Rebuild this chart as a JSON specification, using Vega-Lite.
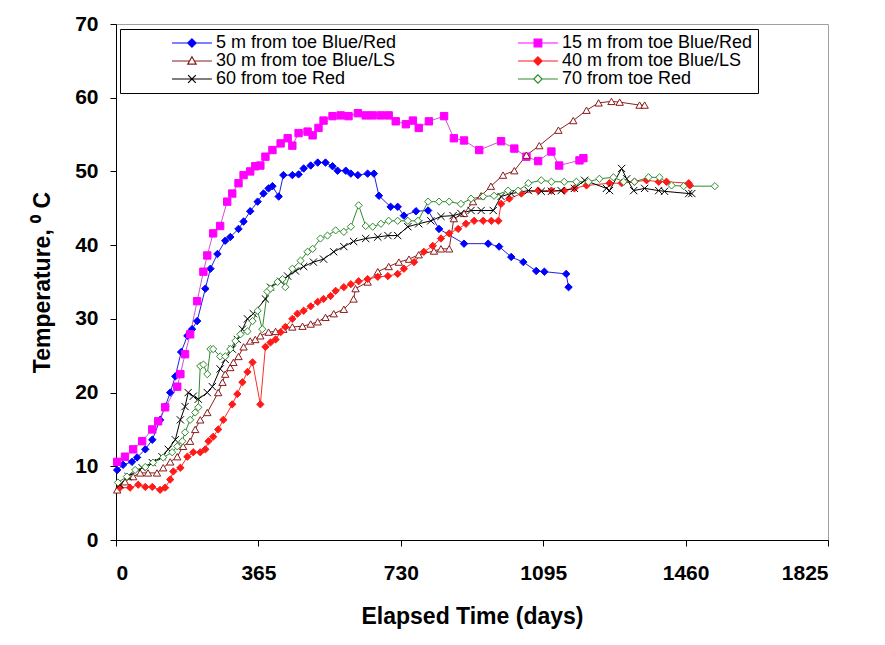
{
  "$schema": "https://vega.github.io/schema/vega-lite/v6.json",
  "width": 712,
  "height": 516,
  "autosize": {"type": "none"},
  "padding": {"left": 116, "top": 24, "right": 57, "bottom": 105},
  "background": "white",
  "config": {
    "view": {"stroke": "#a0a0a0", "strokeWidth": 1},
    "font": "Liberation Sans",
    "axis": {
      "grid": false,
      "domainColor": "#000000",
      "tickColor": "#000000",
      "tickSize": 6,
      "labelFont": "Liberation Sans",
      "labelFontWeight": "bold",
      "labelFontSize": 21,
      "labelColor": "#000000",
      "titleFont": "Liberation Sans",
      "titleFontWeight": "bold",
      "titleFontSize": 23,
      "titleColor": "#000000"
    }
  },
  "datasets": {
    "legendrows": [
      {"series": "5 m from toe Blue/Red"},
      {"series": "15 m from toe Blue/Red"},
      {"series": "30 m from toe Blue/LS"},
      {"series": "40 m from toe Blue/LS"},
      {"series": "60  from toe Red"},
      {"series": "70  from toe Red"}
    ],
    "temps": [
      {"series": "5 m from toe Blue/Red", "day": 3, "temp": 9.5},
      {"series": "5 m from toe Blue/Red", "day": 18, "temp": 10.2},
      {"series": "5 m from toe Blue/Red", "day": 41, "temp": 10.6},
      {"series": "5 m from toe Blue/Red", "day": 54, "temp": 11.2},
      {"series": "5 m from toe Blue/Red", "day": 75, "temp": 12.3},
      {"series": "5 m from toe Blue/Red", "day": 93, "temp": 13.6},
      {"series": "5 m from toe Blue/Red", "day": 113, "temp": 16.3},
      {"series": "5 m from toe Blue/Red", "day": 126, "temp": 18.1},
      {"series": "5 m from toe Blue/Red", "day": 139, "temp": 20.0},
      {"series": "5 m from toe Blue/Red", "day": 152, "temp": 22.2},
      {"series": "5 m from toe Blue/Red", "day": 167, "temp": 25.5},
      {"series": "5 m from toe Blue/Red", "day": 183, "temp": 27.7},
      {"series": "5 m from toe Blue/Red", "day": 195, "temp": 28.6},
      {"series": "5 m from toe Blue/Red", "day": 208, "temp": 29.7},
      {"series": "5 m from toe Blue/Red", "day": 229, "temp": 34.1},
      {"series": "5 m from toe Blue/Red", "day": 242, "temp": 36.8},
      {"series": "5 m from toe Blue/Red", "day": 260, "temp": 38.8},
      {"series": "5 m from toe Blue/Red", "day": 280, "temp": 40.6},
      {"series": "5 m from toe Blue/Red", "day": 293, "temp": 41.1},
      {"series": "5 m from toe Blue/Red", "day": 314, "temp": 42.2},
      {"series": "5 m from toe Blue/Red", "day": 327, "temp": 43.2},
      {"series": "5 m from toe Blue/Red", "day": 344, "temp": 44.6},
      {"series": "5 m from toe Blue/Red", "day": 363, "temp": 45.9},
      {"series": "5 m from toe Blue/Red", "day": 378, "temp": 47.0},
      {"series": "5 m from toe Blue/Red", "day": 391, "temp": 47.7},
      {"series": "5 m from toe Blue/Red", "day": 401, "temp": 48.0},
      {"series": "5 m from toe Blue/Red", "day": 417, "temp": 46.6},
      {"series": "5 m from toe Blue/Red", "day": 429, "temp": 49.5},
      {"series": "5 m from toe Blue/Red", "day": 452, "temp": 49.5},
      {"series": "5 m from toe Blue/Red", "day": 468, "temp": 49.6},
      {"series": "5 m from toe Blue/Red", "day": 481, "temp": 50.4},
      {"series": "5 m from toe Blue/Red", "day": 499, "temp": 50.8},
      {"series": "5 m from toe Blue/Red", "day": 517, "temp": 51.2},
      {"series": "5 m from toe Blue/Red", "day": 537, "temp": 51.2},
      {"series": "5 m from toe Blue/Red", "day": 555, "temp": 50.7},
      {"series": "5 m from toe Blue/Red", "day": 568, "temp": 50.1},
      {"series": "5 m from toe Blue/Red", "day": 589, "temp": 50.1},
      {"series": "5 m from toe Blue/Red", "day": 602, "temp": 49.7},
      {"series": "5 m from toe Blue/Red", "day": 620, "temp": 49.5},
      {"series": "5 m from toe Blue/Red", "day": 645, "temp": 49.7},
      {"series": "5 m from toe Blue/Red", "day": 661, "temp": 49.7},
      {"series": "5 m from toe Blue/Red", "day": 674, "temp": 46.7},
      {"series": "5 m from toe Blue/Red", "day": 704, "temp": 45.2},
      {"series": "5 m from toe Blue/Red", "day": 722, "temp": 45.2},
      {"series": "5 m from toe Blue/Red", "day": 738, "temp": 44.0},
      {"series": "5 m from toe Blue/Red", "day": 769, "temp": 44.6},
      {"series": "5 m from toe Blue/Red", "day": 800, "temp": 44.7},
      {"series": "5 m from toe Blue/Red", "day": 828, "temp": 42.2},
      {"series": "5 m from toe Blue/Red", "day": 892, "temp": 40.2},
      {"series": "5 m from toe Blue/Red", "day": 954, "temp": 40.2},
      {"series": "5 m from toe Blue/Red", "day": 982, "temp": 39.8},
      {"series": "5 m from toe Blue/Red", "day": 1013, "temp": 38.4},
      {"series": "5 m from toe Blue/Red", "day": 1044, "temp": 37.7},
      {"series": "5 m from toe Blue/Red", "day": 1077, "temp": 36.5},
      {"series": "5 m from toe Blue/Red", "day": 1098, "temp": 36.4},
      {"series": "5 m from toe Blue/Red", "day": 1154, "temp": 36.1},
      {"series": "5 m from toe Blue/Red", "day": 1160, "temp": 34.3},

      {"series": "15 m from toe Blue/Red", "day": 3, "temp": 10.6},
      {"series": "15 m from toe Blue/Red", "day": 23, "temp": 11.3},
      {"series": "15 m from toe Blue/Red", "day": 44, "temp": 12.3},
      {"series": "15 m from toe Blue/Red", "day": 67, "temp": 13.4},
      {"series": "15 m from toe Blue/Red", "day": 93, "temp": 15.0},
      {"series": "15 m from toe Blue/Red", "day": 108, "temp": 16.1},
      {"series": "15 m from toe Blue/Red", "day": 126, "temp": 18.0},
      {"series": "15 m from toe Blue/Red", "day": 157, "temp": 20.8},
      {"series": "15 m from toe Blue/Red", "day": 165, "temp": 22.5},
      {"series": "15 m from toe Blue/Red", "day": 177, "temp": 25.2},
      {"series": "15 m from toe Blue/Red", "day": 190, "temp": 27.9},
      {"series": "15 m from toe Blue/Red", "day": 208, "temp": 32.4},
      {"series": "15 m from toe Blue/Red", "day": 224, "temp": 36.4},
      {"series": "15 m from toe Blue/Red", "day": 234, "temp": 38.6},
      {"series": "15 m from toe Blue/Red", "day": 249, "temp": 41.6},
      {"series": "15 m from toe Blue/Red", "day": 267, "temp": 42.6},
      {"series": "15 m from toe Blue/Red", "day": 285, "temp": 45.9},
      {"series": "15 m from toe Blue/Red", "day": 298, "temp": 47.0},
      {"series": "15 m from toe Blue/Red", "day": 314, "temp": 48.4},
      {"series": "15 m from toe Blue/Red", "day": 327, "temp": 49.5},
      {"series": "15 m from toe Blue/Red", "day": 344, "temp": 50.0},
      {"series": "15 m from toe Blue/Red", "day": 357, "temp": 50.7},
      {"series": "15 m from toe Blue/Red", "day": 370, "temp": 50.8},
      {"series": "15 m from toe Blue/Red", "day": 383, "temp": 52.0},
      {"series": "15 m from toe Blue/Red", "day": 401, "temp": 52.9},
      {"series": "15 m from toe Blue/Red", "day": 422, "temp": 53.8},
      {"series": "15 m from toe Blue/Red", "day": 440, "temp": 54.5},
      {"series": "15 m from toe Blue/Red", "day": 452, "temp": 53.5},
      {"series": "15 m from toe Blue/Red", "day": 468, "temp": 55.2},
      {"series": "15 m from toe Blue/Red", "day": 491, "temp": 55.4},
      {"series": "15 m from toe Blue/Red", "day": 504, "temp": 54.9},
      {"series": "15 m from toe Blue/Red", "day": 519, "temp": 55.9},
      {"series": "15 m from toe Blue/Red", "day": 532, "temp": 56.9},
      {"series": "15 m from toe Blue/Red", "day": 555, "temp": 57.5},
      {"series": "15 m from toe Blue/Red", "day": 576, "temp": 57.6},
      {"series": "15 m from toe Blue/Red", "day": 596, "temp": 57.5},
      {"series": "15 m from toe Blue/Red", "day": 620, "temp": 57.9},
      {"series": "15 m from toe Blue/Red", "day": 640, "temp": 57.6},
      {"series": "15 m from toe Blue/Red", "day": 658, "temp": 57.6},
      {"series": "15 m from toe Blue/Red", "day": 679, "temp": 57.6},
      {"series": "15 m from toe Blue/Red", "day": 699, "temp": 57.6},
      {"series": "15 m from toe Blue/Red", "day": 717, "temp": 56.8},
      {"series": "15 m from toe Blue/Red", "day": 743, "temp": 56.4},
      {"series": "15 m from toe Blue/Red", "day": 761, "temp": 56.9},
      {"series": "15 m from toe Blue/Red", "day": 776, "temp": 55.9},
      {"series": "15 m from toe Blue/Red", "day": 802, "temp": 56.8},
      {"series": "15 m from toe Blue/Red", "day": 841, "temp": 57.5},
      {"series": "15 m from toe Blue/Red", "day": 866, "temp": 54.5},
      {"series": "15 m from toe Blue/Red", "day": 892, "temp": 54.2},
      {"series": "15 m from toe Blue/Red", "day": 931, "temp": 52.9},
      {"series": "15 m from toe Blue/Red", "day": 987, "temp": 54.1},
      {"series": "15 m from toe Blue/Red", "day": 1021, "temp": 53.1},
      {"series": "15 m from toe Blue/Red", "day": 1052, "temp": 52.0},
      {"series": "15 m from toe Blue/Red", "day": 1082, "temp": 51.4},
      {"series": "15 m from toe Blue/Red", "day": 1116, "temp": 52.7},
      {"series": "15 m from toe Blue/Red", "day": 1136, "temp": 50.8},
      {"series": "15 m from toe Blue/Red", "day": 1188, "temp": 51.5},
      {"series": "15 m from toe Blue/Red", "day": 1198, "temp": 51.8},

      {"series": "30 m from toe Blue/LS", "day": 3, "temp": 6.8},
      {"series": "30 m from toe Blue/LS", "day": 23, "temp": 7.9},
      {"series": "30 m from toe Blue/LS", "day": 44, "temp": 8.6},
      {"series": "30 m from toe Blue/LS", "day": 62, "temp": 9.1},
      {"series": "30 m from toe Blue/LS", "day": 82, "temp": 9.1},
      {"series": "30 m from toe Blue/LS", "day": 105, "temp": 9.1},
      {"series": "30 m from toe Blue/LS", "day": 121, "temp": 9.8},
      {"series": "30 m from toe Blue/LS", "day": 139, "temp": 10.6},
      {"series": "30 m from toe Blue/LS", "day": 157, "temp": 11.3},
      {"series": "30 m from toe Blue/LS", "day": 172, "temp": 12.7},
      {"series": "30 m from toe Blue/LS", "day": 190, "temp": 13.4},
      {"series": "30 m from toe Blue/LS", "day": 203, "temp": 15.0},
      {"series": "30 m from toe Blue/LS", "day": 216, "temp": 16.3},
      {"series": "30 m from toe Blue/LS", "day": 234, "temp": 17.3},
      {"series": "30 m from toe Blue/LS", "day": 262, "temp": 20.0},
      {"series": "30 m from toe Blue/LS", "day": 273, "temp": 21.4},
      {"series": "30 m from toe Blue/LS", "day": 280, "temp": 22.5},
      {"series": "30 m from toe Blue/LS", "day": 293, "temp": 23.4},
      {"series": "30 m from toe Blue/LS", "day": 301, "temp": 24.1},
      {"series": "30 m from toe Blue/LS", "day": 314, "temp": 24.9},
      {"series": "30 m from toe Blue/LS", "day": 327, "temp": 26.2},
      {"series": "30 m from toe Blue/LS", "day": 344, "temp": 27.0},
      {"series": "30 m from toe Blue/LS", "day": 357, "temp": 27.2},
      {"series": "30 m from toe Blue/LS", "day": 370, "temp": 27.7},
      {"series": "30 m from toe Blue/LS", "day": 391, "temp": 28.2},
      {"series": "30 m from toe Blue/LS", "day": 409, "temp": 28.3},
      {"series": "30 m from toe Blue/LS", "day": 429, "temp": 28.6},
      {"series": "30 m from toe Blue/LS", "day": 452, "temp": 28.9},
      {"series": "30 m from toe Blue/LS", "day": 478, "temp": 29.0},
      {"series": "30 m from toe Blue/LS", "day": 499, "temp": 29.3},
      {"series": "30 m from toe Blue/LS", "day": 517, "temp": 29.6},
      {"series": "30 m from toe Blue/LS", "day": 537, "temp": 30.2},
      {"series": "30 m from toe Blue/LS", "day": 558, "temp": 30.7},
      {"series": "30 m from toe Blue/LS", "day": 584, "temp": 31.3},
      {"series": "30 m from toe Blue/LS", "day": 609, "temp": 32.7},
      {"series": "30 m from toe Blue/LS", "day": 614, "temp": 34.1},
      {"series": "30 m from toe Blue/LS", "day": 645, "temp": 35.0},
      {"series": "30 m from toe Blue/LS", "day": 671, "temp": 36.4},
      {"series": "30 m from toe Blue/LS", "day": 699, "temp": 37.1},
      {"series": "30 m from toe Blue/LS", "day": 725, "temp": 37.7},
      {"series": "30 m from toe Blue/LS", "day": 751, "temp": 38.1},
      {"series": "30 m from toe Blue/LS", "day": 776, "temp": 38.7},
      {"series": "30 m from toe Blue/LS", "day": 815, "temp": 39.2},
      {"series": "30 m from toe Blue/LS", "day": 833, "temp": 39.5},
      {"series": "30 m from toe Blue/LS", "day": 854, "temp": 39.5},
      {"series": "30 m from toe Blue/LS", "day": 866, "temp": 43.6},
      {"series": "30 m from toe Blue/LS", "day": 892, "temp": 44.3},
      {"series": "30 m from toe Blue/LS", "day": 915, "temp": 45.9},
      {"series": "30 m from toe Blue/LS", "day": 936, "temp": 46.7},
      {"series": "30 m from toe Blue/LS", "day": 961, "temp": 48.0},
      {"series": "30 m from toe Blue/LS", "day": 992, "temp": 49.5},
      {"series": "30 m from toe Blue/LS", "day": 1021, "temp": 50.1},
      {"series": "30 m from toe Blue/LS", "day": 1052, "temp": 52.2},
      {"series": "30 m from toe Blue/LS", "day": 1085, "temp": 53.5},
      {"series": "30 m from toe Blue/LS", "day": 1134, "temp": 55.6},
      {"series": "30 m from toe Blue/LS", "day": 1172, "temp": 56.9},
      {"series": "30 m from toe Blue/LS", "day": 1206, "temp": 58.3},
      {"series": "30 m from toe Blue/LS", "day": 1237, "temp": 59.3},
      {"series": "30 m from toe Blue/LS", "day": 1270, "temp": 59.5},
      {"series": "30 m from toe Blue/LS", "day": 1291, "temp": 59.4},
      {"series": "30 m from toe Blue/LS", "day": 1342, "temp": 59.0},
      {"series": "30 m from toe Blue/LS", "day": 1355, "temp": 59.0},

      {"series": "40 m from toe Blue/LS", "day": 10, "temp": 7.1},
      {"series": "40 m from toe Blue/LS", "day": 36, "temp": 7.1},
      {"series": "40 m from toe Blue/LS", "day": 57, "temp": 7.5},
      {"series": "40 m from toe Blue/LS", "day": 75, "temp": 7.2},
      {"series": "40 m from toe Blue/LS", "day": 93, "temp": 7.2},
      {"series": "40 m from toe Blue/LS", "day": 113, "temp": 6.8},
      {"series": "40 m from toe Blue/LS", "day": 126, "temp": 7.1},
      {"series": "40 m from toe Blue/LS", "day": 139, "temp": 8.2},
      {"series": "40 m from toe Blue/LS", "day": 147, "temp": 9.3},
      {"series": "40 m from toe Blue/LS", "day": 165, "temp": 9.8},
      {"series": "40 m from toe Blue/LS", "day": 183, "temp": 11.3},
      {"series": "40 m from toe Blue/LS", "day": 198, "temp": 11.9},
      {"series": "40 m from toe Blue/LS", "day": 216, "temp": 11.9},
      {"series": "40 m from toe Blue/LS", "day": 229, "temp": 12.3},
      {"series": "40 m from toe Blue/LS", "day": 237, "temp": 13.4},
      {"series": "40 m from toe Blue/LS", "day": 249, "temp": 14.0},
      {"series": "40 m from toe Blue/LS", "day": 262, "temp": 15.0},
      {"series": "40 m from toe Blue/LS", "day": 275, "temp": 16.3},
      {"series": "40 m from toe Blue/LS", "day": 298, "temp": 18.4},
      {"series": "40 m from toe Blue/LS", "day": 311, "temp": 19.8},
      {"series": "40 m from toe Blue/LS", "day": 324, "temp": 21.4},
      {"series": "40 m from toe Blue/LS", "day": 337, "temp": 22.8},
      {"series": "40 m from toe Blue/LS", "day": 350, "temp": 24.1},
      {"series": "40 m from toe Blue/LS", "day": 370, "temp": 18.4},
      {"series": "40 m from toe Blue/LS", "day": 383, "temp": 26.2},
      {"series": "40 m from toe Blue/LS", "day": 396, "temp": 26.8},
      {"series": "40 m from toe Blue/LS", "day": 409, "temp": 27.2},
      {"series": "40 m from toe Blue/LS", "day": 422, "temp": 28.2},
      {"series": "40 m from toe Blue/LS", "day": 434, "temp": 28.9},
      {"series": "40 m from toe Blue/LS", "day": 452, "temp": 30.0},
      {"series": "40 m from toe Blue/LS", "day": 465, "temp": 30.7},
      {"series": "40 m from toe Blue/LS", "day": 481, "temp": 31.1},
      {"series": "40 m from toe Blue/LS", "day": 499, "temp": 31.7},
      {"series": "40 m from toe Blue/LS", "day": 517, "temp": 32.3},
      {"series": "40 m from toe Blue/LS", "day": 532, "temp": 32.7},
      {"series": "40 m from toe Blue/LS", "day": 550, "temp": 33.1},
      {"series": "40 m from toe Blue/LS", "day": 563, "temp": 33.8},
      {"series": "40 m from toe Blue/LS", "day": 584, "temp": 34.3},
      {"series": "40 m from toe Blue/LS", "day": 602, "temp": 34.7},
      {"series": "40 m from toe Blue/LS", "day": 622, "temp": 35.1},
      {"series": "40 m from toe Blue/LS", "day": 645, "temp": 35.4},
      {"series": "40 m from toe Blue/LS", "day": 671, "temp": 35.7},
      {"series": "40 m from toe Blue/LS", "day": 697, "temp": 35.8},
      {"series": "40 m from toe Blue/LS", "day": 722, "temp": 36.1},
      {"series": "40 m from toe Blue/LS", "day": 738, "temp": 36.8},
      {"series": "40 m from toe Blue/LS", "day": 764, "temp": 37.7},
      {"series": "40 m from toe Blue/LS", "day": 789, "temp": 39.1},
      {"series": "40 m from toe Blue/LS", "day": 812, "temp": 39.9},
      {"series": "40 m from toe Blue/LS", "day": 833, "temp": 40.9},
      {"series": "40 m from toe Blue/LS", "day": 854, "temp": 41.6},
      {"series": "40 m from toe Blue/LS", "day": 877, "temp": 42.2},
      {"series": "40 m from toe Blue/LS", "day": 897, "temp": 42.9},
      {"series": "40 m from toe Blue/LS", "day": 918, "temp": 43.3},
      {"series": "40 m from toe Blue/LS", "day": 941, "temp": 43.3},
      {"series": "40 m from toe Blue/LS", "day": 962, "temp": 43.3},
      {"series": "40 m from toe Blue/LS", "day": 980, "temp": 43.3},
      {"series": "40 m from toe Blue/LS", "day": 987, "temp": 45.6},
      {"series": "40 m from toe Blue/LS", "day": 1008, "temp": 46.3},
      {"series": "40 m from toe Blue/LS", "day": 1039, "temp": 47.0},
      {"series": "40 m from toe Blue/LS", "day": 1082, "temp": 47.4},
      {"series": "40 m from toe Blue/LS", "day": 1116, "temp": 47.4},
      {"series": "40 m from toe Blue/LS", "day": 1149, "temp": 47.4},
      {"series": "40 m from toe Blue/LS", "day": 1175, "temp": 47.7},
      {"series": "40 m from toe Blue/LS", "day": 1206, "temp": 48.1},
      {"series": "40 m from toe Blue/LS", "day": 1265, "temp": 48.4},
      {"series": "40 m from toe Blue/LS", "day": 1296, "temp": 48.4},
      {"series": "40 m from toe Blue/LS", "day": 1329, "temp": 48.6},
      {"series": "40 m from toe Blue/LS", "day": 1360, "temp": 48.8},
      {"series": "40 m from toe Blue/LS", "day": 1391, "temp": 48.6},
      {"series": "40 m from toe Blue/LS", "day": 1411, "temp": 48.6},
      {"series": "40 m from toe Blue/LS", "day": 1468, "temp": 48.4},
      {"series": "40 m from toe Blue/LS", "day": 1471, "temp": 48.1},

      {"series": "60  from toe Red", "day": 10, "temp": 7.5},
      {"series": "60  from toe Red", "day": 31, "temp": 8.6},
      {"series": "60  from toe Red", "day": 67, "temp": 9.8},
      {"series": "60  from toe Red", "day": 93, "temp": 10.5},
      {"series": "60  from toe Red", "day": 118, "temp": 11.3},
      {"series": "60  from toe Red", "day": 134, "temp": 12.3},
      {"series": "60  from toe Red", "day": 152, "temp": 13.6},
      {"series": "60  from toe Red", "day": 165, "temp": 16.3},
      {"series": "60  from toe Red", "day": 177, "temp": 18.1},
      {"series": "60  from toe Red", "day": 185, "temp": 20.0},
      {"series": "60  from toe Red", "day": 198, "temp": 19.5},
      {"series": "60  from toe Red", "day": 211, "temp": 19.1},
      {"series": "60  from toe Red", "day": 234, "temp": 20.0},
      {"series": "60  from toe Red", "day": 247, "temp": 20.8},
      {"series": "60  from toe Red", "day": 267, "temp": 23.2},
      {"series": "60  from toe Red", "day": 280, "temp": 24.5},
      {"series": "60  from toe Red", "day": 298, "temp": 25.9},
      {"series": "60  from toe Red", "day": 311, "temp": 27.2},
      {"series": "60  from toe Red", "day": 324, "temp": 28.6},
      {"series": "60  from toe Red", "day": 337, "temp": 30.0},
      {"series": "60  from toe Red", "day": 352, "temp": 30.7},
      {"series": "60  from toe Red", "day": 383, "temp": 32.7},
      {"series": "60  from toe Red", "day": 396, "temp": 34.3},
      {"series": "60  from toe Red", "day": 422, "temp": 35.1},
      {"series": "60  from toe Red", "day": 440, "temp": 35.8},
      {"series": "60  from toe Red", "day": 460, "temp": 36.5},
      {"series": "60  from toe Red", "day": 481, "temp": 37.1},
      {"series": "60  from toe Red", "day": 506, "temp": 37.7},
      {"series": "60  from toe Red", "day": 532, "temp": 38.1},
      {"series": "60  from toe Red", "day": 558, "temp": 39.1},
      {"series": "60  from toe Red", "day": 584, "temp": 39.8},
      {"series": "60  from toe Red", "day": 609, "temp": 40.5},
      {"series": "60  from toe Red", "day": 640, "temp": 40.9},
      {"series": "60  from toe Red", "day": 671, "temp": 41.1},
      {"series": "60  from toe Red", "day": 697, "temp": 41.3},
      {"series": "60  from toe Red", "day": 722, "temp": 41.3},
      {"series": "60  from toe Red", "day": 748, "temp": 42.5},
      {"series": "60  from toe Red", "day": 776, "temp": 42.9},
      {"series": "60  from toe Red", "day": 807, "temp": 43.3},
      {"series": "60  from toe Red", "day": 833, "temp": 43.9},
      {"series": "60  from toe Red", "day": 864, "temp": 44.0},
      {"series": "60  from toe Red", "day": 884, "temp": 44.3},
      {"series": "60  from toe Red", "day": 910, "temp": 44.7},
      {"series": "60  from toe Red", "day": 936, "temp": 44.7},
      {"series": "60  from toe Red", "day": 967, "temp": 44.7},
      {"series": "60  from toe Red", "day": 987, "temp": 46.6},
      {"series": "60  from toe Red", "day": 1013, "temp": 47.0},
      {"series": "60  from toe Red", "day": 1057, "temp": 47.4},
      {"series": "60  from toe Red", "day": 1090, "temp": 47.3},
      {"series": "60  from toe Red", "day": 1116, "temp": 47.3},
      {"series": "60  from toe Red", "day": 1141, "temp": 47.4},
      {"series": "60  from toe Red", "day": 1175, "temp": 47.7},
      {"series": "60  from toe Red", "day": 1201, "temp": 48.8},
      {"series": "60  from toe Red", "day": 1257, "temp": 47.7},
      {"series": "60  from toe Red", "day": 1265, "temp": 47.4},
      {"series": "60  from toe Red", "day": 1296, "temp": 50.4},
      {"series": "60  from toe Red", "day": 1309, "temp": 49.0},
      {"series": "60  from toe Red", "day": 1327, "temp": 47.4},
      {"series": "60  from toe Red", "day": 1355, "temp": 47.7},
      {"series": "60  from toe Red", "day": 1391, "temp": 47.4},
      {"series": "60  from toe Red", "day": 1406, "temp": 47.3},
      {"series": "60  from toe Red", "day": 1468, "temp": 47.0},
      {"series": "60  from toe Red", "day": 1476, "temp": 47.0},

      {"series": "70  from toe Red", "day": 5, "temp": 7.8},
      {"series": "70  from toe Red", "day": 28, "temp": 8.6},
      {"series": "70  from toe Red", "day": 49, "temp": 9.5},
      {"series": "70  from toe Red", "day": 75, "temp": 9.9},
      {"series": "70  from toe Red", "day": 95, "temp": 10.5},
      {"series": "70  from toe Red", "day": 121, "temp": 11.2},
      {"series": "70  from toe Red", "day": 144, "temp": 11.9},
      {"series": "70  from toe Red", "day": 157, "temp": 12.7},
      {"series": "70  from toe Red", "day": 170, "temp": 13.4},
      {"series": "70  from toe Red", "day": 177, "temp": 14.6},
      {"series": "70  from toe Red", "day": 190, "temp": 16.3},
      {"series": "70  from toe Red", "day": 203, "temp": 17.3},
      {"series": "70  from toe Red", "day": 211, "temp": 18.0},
      {"series": "70  from toe Red", "day": 216, "temp": 23.6},
      {"series": "70  from toe Red", "day": 224, "temp": 23.8},
      {"series": "70  from toe Red", "day": 234, "temp": 22.5},
      {"series": "70  from toe Red", "day": 242, "temp": 25.9},
      {"series": "70  from toe Red", "day": 249, "temp": 25.9},
      {"series": "70  from toe Red", "day": 267, "temp": 24.9},
      {"series": "70  from toe Red", "day": 280, "temp": 24.9},
      {"series": "70  from toe Red", "day": 293, "temp": 25.9},
      {"series": "70  from toe Red", "day": 306, "temp": 27.0},
      {"series": "70  from toe Red", "day": 319, "temp": 27.9},
      {"series": "70  from toe Red", "day": 337, "temp": 28.3},
      {"series": "70  from toe Red", "day": 350, "temp": 29.7},
      {"series": "70  from toe Red", "day": 363, "temp": 31.1},
      {"series": "70  from toe Red", "day": 375, "temp": 28.6},
      {"series": "70  from toe Red", "day": 388, "temp": 33.7},
      {"series": "70  from toe Red", "day": 396, "temp": 34.1},
      {"series": "70  from toe Red", "day": 414, "temp": 35.0},
      {"series": "70  from toe Red", "day": 427, "temp": 35.4},
      {"series": "70  from toe Red", "day": 434, "temp": 34.3},
      {"series": "70  from toe Red", "day": 452, "temp": 36.8},
      {"series": "70  from toe Red", "day": 473, "temp": 37.9},
      {"series": "70  from toe Red", "day": 491, "temp": 39.1},
      {"series": "70  from toe Red", "day": 504, "temp": 39.5},
      {"series": "70  from toe Red", "day": 524, "temp": 40.9},
      {"series": "70  from toe Red", "day": 542, "temp": 41.3},
      {"series": "70  from toe Red", "day": 563, "temp": 42.0},
      {"series": "70  from toe Red", "day": 584, "temp": 41.8},
      {"series": "70  from toe Red", "day": 602, "temp": 42.5},
      {"series": "70  from toe Red", "day": 622, "temp": 45.4},
      {"series": "70  from toe Red", "day": 640, "temp": 42.6},
      {"series": "70  from toe Red", "day": 658, "temp": 42.5},
      {"series": "70  from toe Red", "day": 679, "temp": 42.9},
      {"series": "70  from toe Red", "day": 699, "temp": 43.3},
      {"series": "70  from toe Red", "day": 722, "temp": 43.3},
      {"series": "70  from toe Red", "day": 748, "temp": 43.3},
      {"series": "70  from toe Red", "day": 774, "temp": 43.3},
      {"series": "70  from toe Red", "day": 800, "temp": 45.9},
      {"series": "70  from toe Red", "day": 828, "temp": 45.9},
      {"series": "70  from toe Red", "day": 854, "temp": 45.9},
      {"series": "70  from toe Red", "day": 884, "temp": 45.6},
      {"series": "70  from toe Red", "day": 910, "temp": 46.3},
      {"series": "70  from toe Red", "day": 941, "temp": 46.6},
      {"series": "70  from toe Red", "day": 969, "temp": 46.7},
      {"series": "70  from toe Red", "day": 1005, "temp": 47.4},
      {"series": "70  from toe Red", "day": 1031, "temp": 47.4},
      {"series": "70  from toe Red", "day": 1057, "temp": 48.4},
      {"series": "70  from toe Red", "day": 1090, "temp": 48.8},
      {"series": "70  from toe Red", "day": 1116, "temp": 48.6},
      {"series": "70  from toe Red", "day": 1149, "temp": 48.6},
      {"series": "70  from toe Red", "day": 1180, "temp": 48.6},
      {"series": "70  from toe Red", "day": 1211, "temp": 48.6},
      {"series": "70  from toe Red", "day": 1239, "temp": 49.0},
      {"series": "70  from toe Red", "day": 1275, "temp": 49.2},
      {"series": "70  from toe Red", "day": 1301, "temp": 48.6},
      {"series": "70  from toe Red", "day": 1329, "temp": 48.6},
      {"series": "70  from toe Red", "day": 1365, "temp": 49.2},
      {"series": "70  from toe Red", "day": 1393, "temp": 49.2},
      {"series": "70  from toe Red", "day": 1424, "temp": 48.1},
      {"series": "70  from toe Red", "day": 1455, "temp": 48.0},
      {"series": "70  from toe Red", "day": 1535, "temp": 48.0}
    ]
  },
  "layer": [
    {
      "data": {"name": "temps"},
      "mark": {"type": "line", "strokeWidth": 1},
      "encoding": {
        "x": {"field": "day", "type": "quantitative", "scale": {"domain": [0, 1825], "nice": false},
              "axis": {"values": [0, 365, 730, 1095, 1460, 1825], "format": "d", "title": "Elapsed Time (days)", "labelPadding": 16, "titlePadding": 22}},
        "y": {"field": "temp", "type": "quantitative", "scale": {"domain": [0, 70], "nice": false},
              "axis": {"values": [0, 10, 20, 30, 40, 50, 60, 70], "format": "d", "title": "Temperature, ⁰ C", "labelPadding": 12, "titlePadding": 20}},
        "color": {"field": "series", "type": "nominal",
                  "scale": {"domain": ["5 m from toe Blue/Red", "15 m from toe Blue/Red", "30 m from toe Blue/LS", "40 m from toe Blue/LS", "60  from toe Red", "70  from toe Red"],
                            "range": ["#2020E0", "#D050D0", "#8B2020", "#FF2A2A", "#000000", "#2E8B2E"]},
                  "legend": null}
      }
    },
    {
      "data": {"name": "temps"},
      "mark": {"type": "point", "strokeWidth": 1, "opacity": 1},
      "encoding": {
        "x": {"field": "day", "type": "quantitative"},
        "y": {"field": "temp", "type": "quantitative"},
        "shape": {"field": "series", "type": "nominal",
                  "scale": {"domain": ["5 m from toe Blue/Red", "15 m from toe Blue/Red", "30 m from toe Blue/LS", "40 m from toe Blue/LS", "60  from toe Red", "70  from toe Red"],
                            "range": ["diamond", "square", "triangle-up", "diamond", "M-1,-1L1,1M-1,1L1,-1", "diamond"]},
                  "legend": null},
        "stroke": {"field": "series", "type": "nominal",
                   "scale": {"domain": ["5 m from toe Blue/Red", "15 m from toe Blue/Red", "30 m from toe Blue/LS", "40 m from toe Blue/LS", "60  from toe Red", "70  from toe Red"],
                             "range": ["#0000FF", "#FF00FF", "#8B1A1A", "#FF1A1A", "#000000", "#2E8B2E"]},
                   "legend": null},
        "fill": {"field": "series", "type": "nominal",
                 "scale": {"domain": ["5 m from toe Blue/Red", "15 m from toe Blue/Red", "30 m from toe Blue/LS", "40 m from toe Blue/LS", "60  from toe Red", "70  from toe Red"],
                           "range": ["#0000FF", "#FF00FF", "#FFFFFF", "#FF1A1A", "transparent", "#FFFFFF"]},
                 "legend": null},
        "size": {"field": "series", "type": "nominal",
                 "scale": {"domain": ["5 m from toe Blue/Red", "15 m from toe Blue/Red", "30 m from toe Blue/LS", "40 m from toe Blue/LS", "60  from toe Red", "70  from toe Red"],
                           "range": [55, 52, 70, 55, 80, 62]},
                 "legend": null}
      }
    },
    {
      "data": {"name": "legendrows"},
      "mark": {"type": "point", "opacity": 0},
      "encoding": {
        "shape": {"field": "series", "type": "nominal",
                  "scale": {"domain": ["5 m from toe Blue/Red", "30 m from toe Blue/LS", "60  from toe Red", "15 m from toe Blue/Red", "40 m from toe Blue/LS", "70  from toe Red"],
                            "range": ["M-1,0H4.7M1.85,-0.6L2.45,0L1.85,0.6L1.25,0Z", "M-1,0H1.51M2.19,0H4.7M1.85,-0.6L2.45,0.45L1.25,0.45Z", "M-1,0H4.7M1.3,-0.55L2.4,0.55M1.3,0.55L2.4,-0.55", "M-1,0H4.7M1.3,-0.55H2.4V0.55H1.3Z", "M-1,0H4.7M1.85,-0.6L2.45,0L1.85,0.6L1.25,0Z", "M-1,0H1.25M2.45,0H4.7M1.85,-0.6L2.45,0L1.85,0.6L1.25,0Z"]},
                  "legend": {"orient": "none", "legendX": 4, "legendY": 5, "columns": 2, "title": " ", "titleOrient": "left", "titlePadding": 45, "titleFontSize": 10,
                             "padding": 5, "strokeColor": "#000000", "fillColor": "#FFFFFF", "labelFont": "Liberation Sans", "labelFontSize": 18, "labelColor": "#000000",
                             "labelOffset": 28, "labelLimit": 500, "symbolSize": 196, "symbolStrokeWidth": 1.2, "rowPadding": 0, "columnPadding": 118,
                             "encode": {"symbols": {"update": {"opacity": {"value": 1}}}}}},
        "stroke": {"field": "series", "type": "nominal",
                   "scale": {"domain": ["5 m from toe Blue/Red", "30 m from toe Blue/LS", "60  from toe Red", "15 m from toe Blue/Red", "40 m from toe Blue/LS", "70  from toe Red"],
                             "range": ["#0000FF", "#8B1A1A", "#000000", "#FF00FF", "#FF1A1A", "#2E8B2E"]},
                   "legend": {"orient": "none", "legendX": 4, "legendY": 5, "columns": 2, "title": " ", "titleOrient": "left", "titlePadding": 45, "titleFontSize": 10,
                             "padding": 5, "strokeColor": "#000000", "fillColor": "#FFFFFF", "labelFont": "Liberation Sans", "labelFontSize": 18, "labelColor": "#000000",
                             "labelOffset": 28, "labelLimit": 500, "symbolSize": 196, "symbolStrokeWidth": 1.2, "rowPadding": 0, "columnPadding": 118,
                             "encode": {"symbols": {"update": {"opacity": {"value": 1}}}}}},
        "fill": {"field": "series", "type": "nominal",
                 "scale": {"domain": ["5 m from toe Blue/Red", "30 m from toe Blue/LS", "60  from toe Red", "15 m from toe Blue/Red", "40 m from toe Blue/LS", "70  from toe Red"],
                           "range": ["#0000FF", "#FFFFFF", "transparent", "#FF00FF", "#FF1A1A", "#FFFFFF"]},
                 "legend": {"orient": "none", "legendX": 4, "legendY": 5, "columns": 2, "title": " ", "titleOrient": "left", "titlePadding": 45, "titleFontSize": 10,
                             "padding": 5, "strokeColor": "#000000", "fillColor": "#FFFFFF", "labelFont": "Liberation Sans", "labelFontSize": 18, "labelColor": "#000000",
                             "labelOffset": 28, "labelLimit": 500, "symbolSize": 196, "symbolStrokeWidth": 1.2, "rowPadding": 0, "columnPadding": 118,
                             "encode": {"symbols": {"update": {"opacity": {"value": 1}}}}}}
      }
    }
  ],
  "resolve": {
    "scale": {"shape": "independent", "stroke": "independent", "fill": "independent"},
    "legend": {"shape": "independent", "stroke": "independent", "fill": "independent"}
  }
}
